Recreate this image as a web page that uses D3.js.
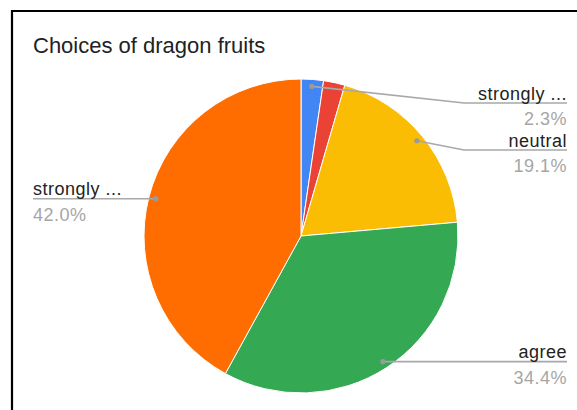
<!DOCTYPE html>
<html>
<head>
<meta charset="utf-8">
<script src="https://cdn.jsdelivr.net/npm/d3@7"></script>
<style>
  html, body { margin: 0; padding: 0; background: #fff; }
  svg { display: block; font-family: "Liberation Sans", Arial, sans-serif; }
</style>
</head>
<body>
<svg id="chart" width="577" height="410"></svg>
<script>
// Survey answers, in the order the slices run clockwise from 12 o'clock
const categories = ["strongly disagree", "disagree", "neutral", "agree", "strongly agree"];
const percents = [2.3, 2.2, 19.1, 34.4, 42.0];
const colors = ["#4285f4", "#ea4335", "#fbbc04", "#34a853", "#ff6d01"];
// Slices that carry a callout label
const labelled = [true, false, true, true, true];
const title = "Choices of dragon fruits";

const W = 577, H = 410;
const cx = 301, cy = 236, R = 157;

const svg = d3.select("#chart");

// frame around the chart card
svg.append("path")
  .attr("d", `M12,${H} V11 H${W}`)
  .attr("fill", "none")
  .attr("stroke", "#000")
  .attr("stroke-width", 2.2);

svg.append("text")
  .attr("x", 33).attr("y", 53)
  .attr("font-size", 22)
  .attr("fill", "#222")
  .text(title);

const data = categories.map((c, i) => ({ name: c, value: percents[i], color: colors[i], labelled: labelled[i] }));

const pie = d3.pie().value(d => d.value).sort(null);
const arcs = pie(data);
const arc = d3.arc().innerRadius(0).outerRadius(R);
const dotArc = d3.arc().innerRadius(150).outerRadius(150);

const g = svg.append("g").attr("transform", `translate(${cx},${cy})`);

g.selectAll("path.slice")
  .data(arcs)
  .enter().append("path")
  .attr("class", "slice")
  .attr("d", arc)
  .attr("fill", d => d.data.color)
  .attr("stroke", "#fff")
  .attr("stroke-width", 1);

// callout layout: dots sit on a ring just inside the rim, labels stack per side
const callouts = arcs.filter(a => a.data.labelled).map(a => {
  const [x, y] = dotArc.centroid(a);
  const mid = (a.startAngle + a.endAngle) / 2;
  return { a, x: cx + x, y: cy + y, right: Math.sin(mid) >= 0 };
});

const gap = 47;
const topLimit = cy - R + 24;
["right", "left"].forEach(side => {
  const list = callouts.filter(c => (side === "right") === c.right).sort((p, q) => p.y - q.y);
  let prev = -Infinity;
  list.forEach(c => {
    c.ly = Math.max(c.y, prev + gap, topLimit);
    prev = c.ly;
  });
});

const truncate = s => s.length > 10 ? s.slice(0, 8) + " ..." : s;
const fmt = v => v.toFixed(1) + "%";

const leaderColor = "#a8a8a8";
callouts.forEach(c => {
  const elbowX = c.right ? cx + R + 6 : cx - R - 6;
  const endX = c.right ? 567 : 33;
  const pts = Math.abs(c.ly - c.y) < 0.5
    ? [[c.x, c.y], [endX, c.ly]]
    : [[c.x, c.y], [elbowX, c.ly], [endX, c.ly]];
  svg.append("path")
    .attr("d", d3.line()(pts))
    .attr("fill", "none")
    .attr("stroke", leaderColor)
    .attr("stroke-width", 1.6);
  svg.append("circle")
    .attr("cx", c.x).attr("cy", c.y).attr("r", 2.6)
    .attr("fill", "#9a9a9a");

  const anchor = c.right ? "end" : "start";
  svg.append("text")
    .attr("x", endX).attr("y", c.ly - 3.5)
    .attr("text-anchor", anchor)
    .attr("font-size", 18)
    .attr("letter-spacing", 0.5)
    .attr("fill", "#222")
    .text(truncate(c.a.data.name));
  svg.append("text")
    .attr("x", endX).attr("y", c.ly + 22)
    .attr("text-anchor", anchor)
    .attr("font-size", 18)
    .attr("letter-spacing", 0.5)
    .attr("fill", "#a6a6a6")
    .text(fmt(c.a.data.value));
});
</script>
</body>
</html>
